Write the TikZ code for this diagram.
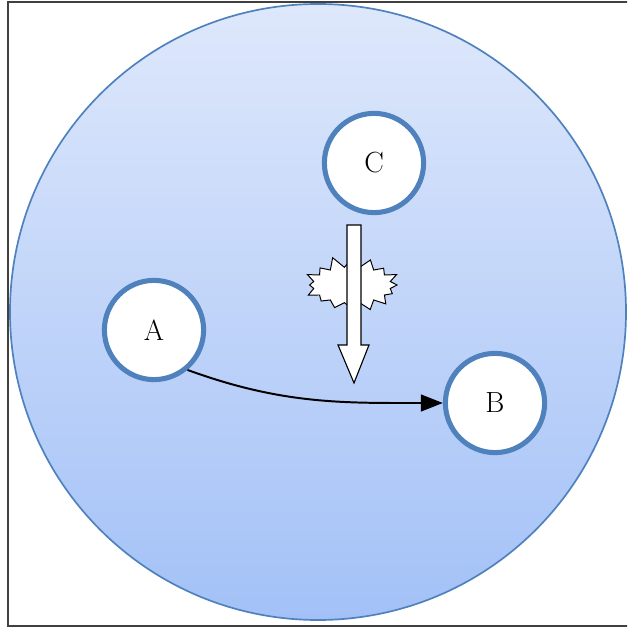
\documentclass[tikz,border=0pt]{standalone}
\usepackage{tikz}
\usetikzlibrary{arrows.meta, shapes.symbols, positioning, calc}
\definecolor{ringblue}{RGB}{79,129,189}
\definecolor{skytop}{RGB}{222,232,251}
\definecolor{skybot}{RGB}{163,193,247}
\definecolor{framegray}{RGB}{64,64,64}

\begin{document}
\begin{tikzpicture}[x=0.025cm,y=-0.025cm,
    host/.style={circle,draw=ringblue,line width=3.6pt,fill=white,minimum size=2.48cm,font=\huge},
    burst/.style={starburst,starburst points=16,starburst point height=0.3cm,draw=black,fill=white,line width=0.7pt,minimum width=2.55cm,minimum height=1.5cm,random starburst=11}]
                    \useasboundingbox (0,0) rectangle (627,628);
                    \clip (0,0) rectangle (627,628);
                    \draw[framegray,line width=1.5pt] (660,2) -- (8,2) -- (8,626) -- (660,626);
                    \shade[top color=skytop,bottom color=skybot] (318,312) circle (308);
                    \draw[ringblue,line width=1.2pt] (318,312) circle (308);
                    \node[host] (C) at (374,163) {C};
                    \node[host] (A) at (154,330) {A};
                    \node[host] (B) at (495,403) {B};
                    \node[burst] (hit) at (352,285) {};
                    % hollow block arrow below C
                    \coordinate (tip) at (354,383);
                    \draw[black,fill=white,line width=0.8pt] (347,225) -- (361,225) -- (361,345) -- (369,345) -- (tip) -- (338,345) -- (347,345) -- cycle;
                    \draw[-{Triangle[length=0.55cm,width=0.42cm]},line width=1.4pt] (A.-50) to[out=-20,in=180] (B.west);
                \end{tikzpicture}
\end{document}
